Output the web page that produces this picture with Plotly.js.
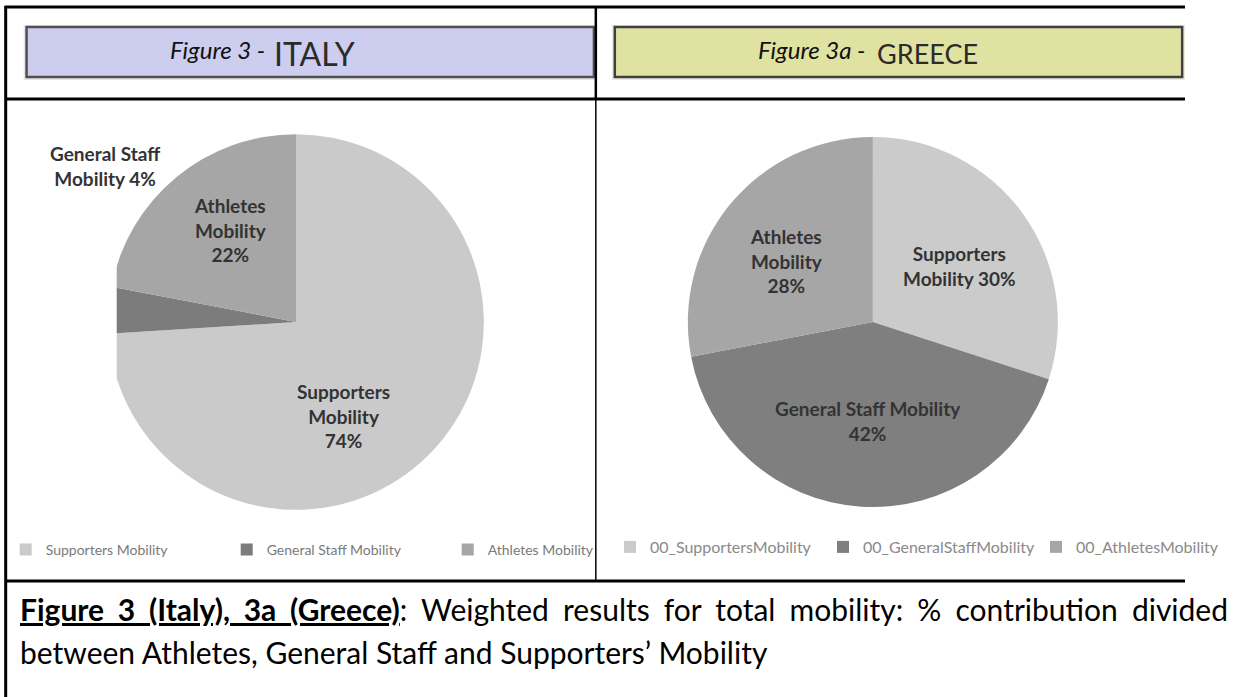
<!DOCTYPE html>
<html>
<head>
<meta charset="utf-8">
<script src="https://cdn.plot.ly/plotly-3.0.1.min.js"></script>
<style>
  html, body { margin:0; padding:0; background:#fff; overflow:hidden; }
  #chart { position:absolute; left:0; top:0; width:1249px; height:697px; }
  #cap { position:absolute; left:20px; top:589px; width:1208px; font-family:Lato, 'Open Sans', sans-serif;
         font-size:30px; color:#000; z-index:10; }
  #cap .l1 { line-height:40px; text-align:justify; text-align-last:justify; white-space:nowrap; }
  #cap .l2 { line-height:40px; margin-top:3px; }
</style>
</head>
<body>
<div id="chart"></div>
<div id="cap">
  <div class="l1"><b><u>Figure 3 (Italy), 3a (Greece)</u></b>: Weighted results for total mobility: % contribution divided</div>
  <div class="l2">between Athletes, General Staff and Supporters’ Mobility</div>
</div>
<script>
// ---- data ----
const italyCategories = ['Supporters Mobility', 'General Staff Mobility', 'Athletes Mobility'];
const italyValues = [74, 4, 22];
const greeceCategories = ['00_SupportersMobility', '00_GeneralStaffMobility', '00_AthletesMobility'];
const greeceSliceNames = ['Supporters Mobility', 'General Staff Mobility', 'Athletes Mobility'];
const greeceValues = [30, 42, 28];
const panelFigures = ['Figure 3 -', 'Figure 3a -'];
const panelCountries = ['ITALY', 'GREECE'];

// ---- styles ----
const W = 1249, H = 697;
const X = px => px / W;
const Y = py => 1 - py / H;
const italyColors = ['#cacaca', '#7c7c7c', '#a6a6a6'];
const greeceColors = ['#cbcbcb', '#7f7f7f', '#a6a6a6'];

function sliceText(name, v, mode) {
  const first = name.replace(/\s*Mobility$/, '');
  if (mode === 'stack') return '<b>' + first + '<br>Mobility<br>' + v + '%</b>';
  if (mode === 'two') return '<b>' + first + '<br>Mobility ' + v + '%</b>';
  return '<b>' + name + '<br>' + v + '%</b>';
}

const italyLabelLayout = [{x: 362, y: 416, mode: 'stack'}, {x: 111, y: 166, mode: 'two'}, {x: 243, y: 230, mode: 'stack'}];
const greeceLabelLayout = [{x: 1011, y: 266, mode: 'two'}, {x: 915, y: 421, mode: 'wide'}, {x: 829, y: 261, mode: 'stack'}];

const traces = [
  {
    type: 'pie', labels: italyCategories, values: italyValues, sort: false,
    direction: 'clockwise', rotation: 0, textinfo: 'none', hoverinfo: 'label+percent',
    marker: {colors: italyColors, line: {width: 0}},
    domain: {x: [X(114), X(510)], y: [Y(520), Y(124)]},
    legend: 'legend', showlegend: true
  },
  {
    type: 'pie', labels: greeceCategories, values: greeceValues, sort: false,
    direction: 'clockwise', rotation: 0, textinfo: 'none', hoverinfo: 'label+percent',
    marker: {colors: greeceColors, line: {width: 0}},
    domain: {x: [X(725), X(1115)], y: [Y(517), Y(127)]},
    legend: 'legend2', showlegend: true
  }
];

const annotations = [];
italyCategories.forEach((c, i) => {
  const p = italyLabelLayout[i];
  annotations.push({xref: 'paper', yref: 'paper', x: X(p.x), y: Y(p.y), showarrow: false,
    xanchor: 'center', yanchor: 'middle', align: 'center',
    text: sliceText(c, italyValues[i], p.mode), font: {family: 'Lato', size: 19, color: '#333333'}});
});
greeceSliceNames.forEach((c, i) => {
  const p = greeceLabelLayout[i];
  annotations.push({xref: 'paper', yref: 'paper', x: X(p.x), y: Y(p.y), showarrow: false,
    xanchor: 'center', yanchor: 'middle', align: 'center',
    text: sliceText(c, greeceValues[i], p.mode), font: {family: 'Lato', size: 19, color: '#333333'}});
});
// panel titles: italic figure number, then country name
const figRight = [281, 915], countryLeft = [287, 922], countrySize = [32, 27];
panelFigures.forEach((f, i) => {
  annotations.push({xref: 'paper', yref: 'paper', x: X(figRight[i]), y: Y(49), showarrow: false,
    xanchor: 'right', yanchor: 'middle', text: '<i>' + f + '</i>',
    font: {family: 'Lato', size: 24, color: '#111111'}});
  annotations.push({xref: 'paper', yref: 'paper', x: X(countryLeft[i]), y: Y(53), showarrow: false,
    xanchor: 'left', yanchor: 'middle', text: panelCountries[i],
    font: {family: 'Lato', size: countrySize[i], color: '#2b2b2b'}});
});

function line(x0, y0, x1, y1, w, c) {
  return {type: 'line', xref: 'paper', yref: 'paper', x0: X(x0), y0: Y(y0), x1: X(x1), y1: Y(y1),
          line: {color: c || '#000', width: w}};
}
function rect(x0, y0, x1, y1, fill, lc, lw, layer) {
  return {type: 'rect', xref: 'paper', yref: 'paper', x0: X(x0), y0: Y(y0), x1: X(x1), y1: Y(y1),
          fillcolor: fill, line: {color: lc || 'rgba(0,0,0,0)', width: lw || 0}, layer: layer || 'above'};
}

const shapes = [
  // title bars with soft shadow
  rect(25, 25, 629, 80, '#e4e4ea', null, 0, 'below'),
  rect(28, 27, 626, 77, '#cdcdf0', '#505050', 2.5, 'below'),
  rect(645, 25, 1249, 80, '#ebebdc', null, 0, 'below'),
  rect(648, 27, 1246, 77, '#e0e2a2', '#404040', 2.5, 'below'),
  // clip of Italy pie's left side (as in source image)
  rect(8, 200, 123, 535, '#ffffff', null, 0, 'above'),
  // table frame (open on the right)
  line(5, 7, 1249, 7, 3),
  line(6, 6, 6, 697, 3),
  line(6, 99, 1249, 99, 3),
  line(6, 581, 1249, 581, 3),
  line(628, 7, 628, 99, 2.5),
  line(628, 99, 628, 581, 1.5)
];

const layout = {
  width: W, height: H,
  margin: {l: 0, r: 0, t: 0, b: 0},
  paper_bgcolor: '#ffffff', plot_bgcolor: '#ffffff',
  showlegend: true,
  legend: {orientation: 'h', x: X(6), y: Y(550), xanchor: 'left', yanchor: 'middle',
           font: {family: 'Lato', size: 14, color: '#7a7a7a'}, bgcolor: 'rgba(0,0,0,0)',
           itemwidth: 30, traceorder: 'normal', entrywidth: 176, entrywidthmode: 'pixels'},
  legend2: {orientation: 'h', x: X(643), y: Y(547), xanchor: 'left', yanchor: 'middle',
           font: {family: 'Lato', size: 16, color: '#8a8a8a'}, bgcolor: 'rgba(0,0,0,0)',
           itemwidth: 30, traceorder: 'normal', entrywidth: 168, entrywidthmode: 'pixels'},
  annotations: annotations,
  shapes: shapes
};

Plotly.newPlot('chart', traces, layout, {displayModeBar: false, staticPlot: true});
</script>
</body>
</html>
